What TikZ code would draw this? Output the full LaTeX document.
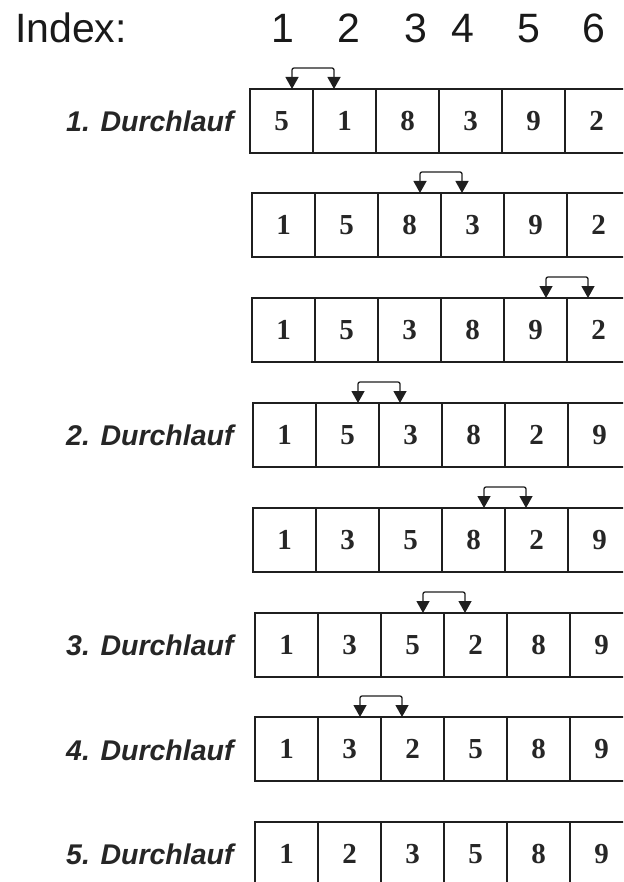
\documentclass[tikz,border=0pt]{standalone}
\usepackage{fontspec}
\setmainfont{Liberation Serif}
\newfontfamily\lsans{Liberation Sans}
\usetikzlibrary{arrows.meta}
\begin{document}
\begin{tikzpicture}[x=1pt,y=-1pt,
  cell/.style={draw=black!88, line width=1.6pt, minimum width=63pt, minimum height=64pt,
    inner sep=0pt, outer sep=0pt, anchor=north west,
    font=\fontsize{29}{29}\selectfont\bfseries, text=black!85},
  passlabel/.style={anchor=base west, inner sep=0pt, font=\lsans\fontsize{28.5}{30}\selectfont\bfseries\itshape, text=black!85},
  idx/.style={anchor=base, inner sep=0pt, font=\lsans\fontsize{41}{41}\selectfont, text=black!90},
  swaparrow/.style={line width=1.3pt, draw=black!88, rounded corners=2pt,
    {Triangle[width=13pt,length=12pt]}-{Triangle[width=13pt,length=12pt]}}]
\path[use as bounding box] (0,0) rectangle (623,882);
\clip (0,0) rectangle (623,882);
% header
\node[anchor=base west, inner sep=0pt, font=\lsans\fontsize{41}{41}\selectfont, text=black!90] (index) at (15,43) {Index:};
\foreach \n/\x in {1/283,2/349,3/416,4/463,5/529,6/594}
  \node[idx] (i\n) at (\x,43) {\n};
% rows of cells
\foreach \r/\x/\y/\vals in {
  1/250/89/{5,1,8,3,9,2},
  2/252/193/{1,5,8,3,9,2},
  3/252/298/{1,5,3,8,9,2},
  4/253/403/{1,5,3,8,2,9},
  5/253/508/{1,3,5,8,2,9},
  6/255/613/{1,3,5,2,8,9},
  7/255/717/{1,3,2,5,8,9},
  8/255/822/{1,2,3,5,8,9}} {
  \foreach \v [count=\c] in \vals
    \node[cell] (r\r-\c) at (\x+63*\c-63,\y) {\v};
}
% swap arrows
\foreach \r/\c in {1/1,2/3,3/5,4/2,5/4,6/3,7/2} {
  \pgfmathtruncatemacro{\d}{\c+1}
  \draw[swaparrow] ([xshift=-21pt]r\r-\c.north east) -- ++(0,-21) -| ([xshift=21pt]r\r-\d.north west);
}
% pass labels
\node[passlabel] (p1) at (66,132) {1. Durchlauf};
\node[passlabel] (p2) at (66,445) {2. Durchlauf};
\node[passlabel] (p3) at (66,655) {3. Durchlauf};
\node[passlabel] (p4) at (66,760) {4. Durchlauf};
\node[passlabel] (p5) at (66,864) {5. Durchlauf};
\end{tikzpicture}
\end{document}
